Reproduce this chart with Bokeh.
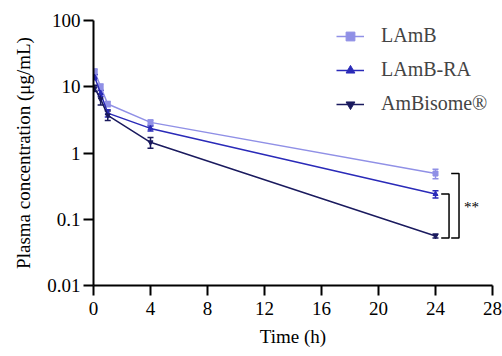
from bokeh.plotting import figure
from bokeh.models import (FixedTicker, Legend, LegendItem, Whisker, ColumnDataSource,
                          TeeHead, Range1d)
from bokeh.core.properties import value
from bokeh.embed import file_html
from bokeh.resources import INLINE

# ---- data ----
time_h = [0.083, 0.5, 1, 4, 24]
lamb = [17.0, 10.0, 5.5, 2.9, 0.49]
lamb_err = [1.5, 1.0, 0.5, 0.25, 0.08]
lamb_ra = [14.0, 8.0, 4.0, 2.35, 0.24]
lamb_ra_err = [1.2, 0.8, 0.5, 0.2, 0.03]
ambisome = [9.5, 6.5, 3.7, 1.45, 0.056]
ambisome_err = [1.0, 1.2, 0.6, 0.27, 0.004]
series_names = ["LAmB", "LAmB-RA", "AmBisome\u00AE"]
x_ticks = [0, 4, 8, 12, 16, 20, 24, 28]
y_ticks = [0.01, 0.1, 1, 10, 100]
y_tick_labels = ["0.01", "0.1", "1", "10", "100"]

colors = ["#9090e6", "#2a2ab8", "#1a1a5e"]
markers = ["square", "triangle", "inverted_triangle"]
FONT = "Liberation Serif"

p = figure(width=502, height=356, output_backend="svg", toolbar_location=None,
           y_axis_type="log", x_range=Range1d(0, 28), y_range=Range1d(0.01, 100),
           min_border_left=93, min_border_right=10, min_border_top=20,
           min_border_bottom=71)
p.outline_line_color = None
p.grid.visible = False
p.background_fill_color = "white"
p.border_fill_color = "white"

p.xaxis.ticker = FixedTicker(ticks=x_ticks)
p.yaxis.ticker = FixedTicker(ticks=y_ticks, minor_ticks=[])
p.yaxis.major_label_overrides = {t: l for t, l in zip(y_ticks, y_tick_labels)}
for ax in (p.xaxis[0], p.yaxis[0]):
    ax.axis_line_width = 2
    ax.major_tick_line_width = 2
    ax.major_tick_out = 10
    ax.major_tick_in = 0
    ax.minor_tick_out = 0
    ax.minor_tick_in = 0
    ax.major_label_text_font = FONT
    ax.major_label_text_font_size = "19px"
    ax.major_label_text_color = "black"
    ax.axis_label_text_font = FONT
    ax.axis_label_text_font_size = "19px"
    ax.axis_label_text_font_style = "normal"
    ax.axis_label_text_color = "black"
p.xaxis.axis_label = "Time (h)"
p.yaxis.axis_label = "Plasma concentration (\u03bcg/mL)"
p.xaxis.axis_label_standoff = 8
p.yaxis.axis_label_standoff = 10
p.xaxis.major_label_standoff = 6
p.yaxis.major_label_standoff = 3

items = []
for name, vals, errs, c, m in zip(series_names, [lamb, lamb_ra, ambisome],
                                  [lamb_err, lamb_ra_err, ambisome_err], colors, markers):
    src = ColumnDataSource(dict(x=time_h, y=vals,
                                lo=[v - e for v, e in zip(vals, errs)],
                                hi=[v + e for v, e in zip(vals, errs)]))
    w = Whisker(source=src, base="x", lower="lo", upper="hi", line_color=c, line_width=1.5,
                lower_head=TeeHead(size=6, line_color=c, line_width=1.5),
                upper_head=TeeHead(size=6, line_color=c, line_width=1.5))
    p.add_layout(w)
    r1 = p.line("x", "y", source=src, line_color=c, line_width=1.5)
    r2 = p.scatter("x", "y", source=src, marker=m, size=5, fill_color=c, line_color=c)
    items.append(LegendItem(label=name, renderers=[r1, r2]))

legend = Legend(items=items, location=(243, 170), padding=0, margin=0, spacing=11,
                glyph_width=28, glyph_height=22, label_height=22, label_standoff=17,
                label_text_font=FONT, label_text_font_size="20px",
                border_line_color=None, background_fill_alpha=0)
p.add_layout(legend)

# significance brackets
top_in, bot = lamb_ra[-1], ambisome[-1] * 0.93
top_out = lamb[-1]
p.multi_line(xs=[[24.4, 24.95, 24.95, 24.4], [25.1, 25.65, 25.65, 25.1]],
             ys=[[top_in, top_in, bot, bot], [top_out, top_out, bot, bot]],
             line_color="black", line_width=1.5)
p.text(x=[26.0], y=[(top_out * bot) ** 0.5 * 0.95], text=["**"], text_font=value(FONT),
       text_font_size="15px", text_baseline="middle", text_align="left", text_color="black")

open("out.html", "w").write(file_html(p, INLINE))
